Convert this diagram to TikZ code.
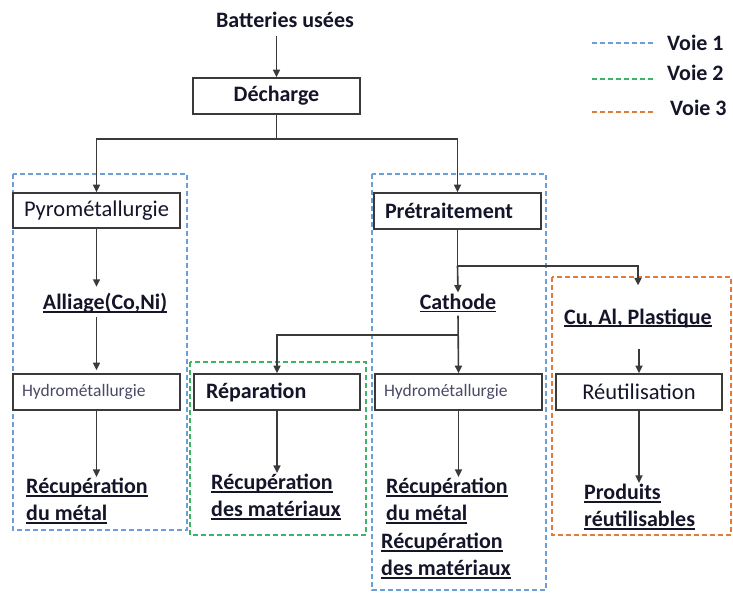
\documentclass[tikz,border=0pt]{standalone}
\usepackage{fontspec}
\setmainfont{Carlito}
\usetikzlibrary{arrows.meta}
\definecolor{txt}{HTML}{15152A}
\definecolor{lineg}{HTML}{3A3A3A}
\definecolor{hyd}{HTML}{4A4A66}
\definecolor{v1}{HTML}{6A9FDB}
\definecolor{v2}{HTML}{3CB466}
\definecolor{v3}{HTML}{E07B39}
\newcommand\ulx[1]{\setbox0\hbox{#1}\rlap{\rule[-3.2pt]{\wd0}{1.8pt}}\box0}
\tikzset{
 every node/.style={text=txt},
 procbox/.style={draw=lineg, line width=1.6pt, fill=white, minimum width=167pt, minimum height=36pt, inner sep=0pt, font=\fontsize{22.5}{26}\selectfont},
 boldbox/.style={procbox, font=\bfseries\fontsize{22}{26}\selectfont},
 leftbox/.style={text width=145pt, align=left, inner xsep=11pt},
 hydbox/.style={procbox, text width=149pt, align=left, inner xsep=9pt, text=hyd, font=\fontsize{17.5}{19}\selectfont},
 boldtxt/.style={font=\bfseries\fontsize{22}{27}\selectfont, inner sep=1pt},
 arr/.style={draw=lineg, line width=1.6pt, -{Triangle[length=7.5pt,width=7pt]}},
 conn/.style={draw=lineg, line width=1.6pt},
 lane/.style={line width=1.9pt, dash pattern=on 5pt off 3pt}
}
\begin{document}
\begin{tikzpicture}[x=1pt,y=-1pt]
\useasboundingbox (0,0) rectangle (733,592);
% lanes
\draw[lane, v1] (13,174) rectangle (187,530);
\draw[lane, v1] (372,174) rectangle (546,590);
\draw[lane, v2] (190,362) rectangle (366,535);
\draw[lane, v3] (552,277) rectangle (731,535);
% legend
\coordinate (l1a) at (592,43); \coordinate (l1b) at (655,43);
\coordinate (l2a) at (592,79); \coordinate (l2b) at (655,79);
\coordinate (l3a) at (592,112); \coordinate (l3b) at (655,112);
\draw[lane, v1] (l1a) -- (l1b);
\draw[lane, v2] (l2a) -- (l2b);
\draw[lane, v3] (l3a) -- (l3b);
\node[boldtxt, anchor=west] (lv1) at (666,43) {Voie 1};
\node[boldtxt, anchor=west] (lv2) at (666,73) {Voie 2};
\node[boldtxt, anchor=west] (lv3) at (669,108) {Voie 3};
% nodes
\node[boldtxt] (bat) at (285,20) {Batteries usées};
\node[boldbox] (dech) at (276.5,96) {Décharge};
\node[procbox, leftbox, minimum height=35pt] (pyro) at (96.5,210.5) {Pyrométallurgie};
\node[boldbox, leftbox] (pre) at (457.5,211) {Prétraitement};
\node[boldtxt] (all) at (105,303) {\ulx{Alliage(Co,Ni)}};
\node[boldtxt] (cat) at (458,303) {\ulx{Cathode}};
\node[boldtxt] (cu) at (638,318) {\ulx{Cu, Al, Plastique}};
\node[hydbox] (hyd1) at (96.5,392) {Hydrométallurgie};
\node[boldbox, text width=142pt, align=left, inner xsep=12pt, minimum width=166pt] (rep) at (277,392) {Réparation};
\node[hydbox] (hyd2) at (458.5,392) {Hydrométallurgie};
\node[procbox, minimum width=166pt] (reut) at (639,392) {Réutilisation};
\node[boldtxt, align=left, anchor=west] (rec1) at (25,501) {\ulx{Récupération}\\\ulx{du métal}};
\node[boldtxt, align=left, anchor=west] (mat1) at (210,497) {\ulx{Récupération}\\\ulx{des matériaux}};
\node[boldtxt, align=left, anchor=west] (rec2) at (385,501) {\ulx{Récupération}\\\ulx{du métal}};
\node[boldtxt, align=left, anchor=west] (mat2) at (380,556) {\ulx{Récupération}\\\ulx{des matériaux}};
\node[boldtxt, align=left, anchor=west] (prod) at (583,507) {\ulx{Produits}\\\ulx{réutilisables}};
% connectors
\draw[arr, shorten <=7pt] (dech.north |- bat.south) -- (dech.north);
\draw[conn] (dech.south) -- ++(0,24) coordinate (s1);
\draw[arr] (s1) -| (pyro.north);
\draw[arr] (s1) -| (pre.north);
\draw[arr, shorten >=5pt] (pyro.south) -- (pyro.south |- all.north);
\draw[arr, shorten <=3pt, shorten >=3pt] (pyro.south |- all.south) -- (hyd1.north);
\draw[arr] (hyd1.south) -- (hyd1.south |- rec1.north);
\draw[conn] (pre.south) -- ++(0,36) coordinate (s2);
\draw[arr] (s2) -- (cat.north);
\draw[arr, shorten >=22pt] (s2) -| (cu.north);
\coordinate (s3) at (458,335);
\draw[arr, shorten <=2pt] (cat.south) -- (hyd2.north);
\draw[arr] (s3) -| (rep.north);
\draw[arr] (rep.south) -- (rep.south |- mat1.north);
\draw[arr] (hyd2.south) -- (hyd2.south |- rec2.north);
\draw[arr, shorten <=20pt] (reut.north |- cu.south) -- (reut.north);
\draw[arr] (reut.south) -- (reut.south |- prod.north);
\end{tikzpicture}
\end{document}
